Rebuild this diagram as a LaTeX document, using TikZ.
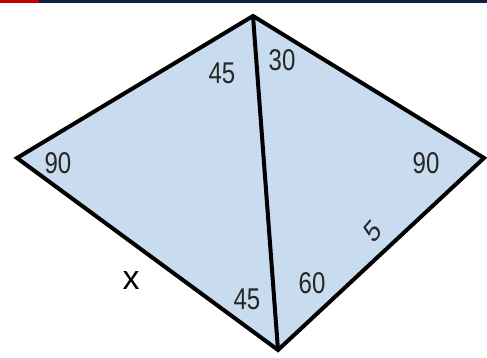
\documentclass[tikz,border=0pt]{standalone}
\usepackage{fontspec}
\setmainfont{Liberation Sans}
\definecolor{navybar}{HTML}{0F2340}
\definecolor{redbar}{HTML}{C00000}
\definecolor{fillblue}{HTML}{C9DCEF}
\tikzset{
  num/.style={text=black!85, font=\fontsize{30}{32}\selectfont, xscale=0.8, inner sep=0pt},
  edge/.style={line width=4pt, line join=miter},
}
\begin{document}
\begin{tikzpicture}[x=1pt,y=-1pt]
\useasboundingbox (0,0) rectangle (487,358);
\fill[redbar] (0,0) rectangle (39,3);
\fill[navybar] (39,0) rectangle (487,3);
\coordinate (T) at (253,16);
\coordinate (L) at (17,158);
\coordinate (R) at (484,158);
\coordinate (B) at (278,350);
\filldraw[fill=fillblue, edge] (T) -- (R) -- (B) -- (L) -- cycle;
\draw[edge] (T) -- (B);
\node[num] (a1) at (222,73) {45};
\node[num] (a2) at (282,60) {30};
\node[num] (a3) at (58,163) {90};
\node[num] (a4) at (426,163) {90};
\node[num, rotate=43] (a5) at (373,231) {5};
\node[num] (a6) at (312,283) {60};
\node[num] (a7) at (247,299) {45};
\node[font=\fontsize{34}{36}\selectfont, inner sep=0pt] (xl) at (131,281) {x};
\end{tikzpicture}
\end{document}
